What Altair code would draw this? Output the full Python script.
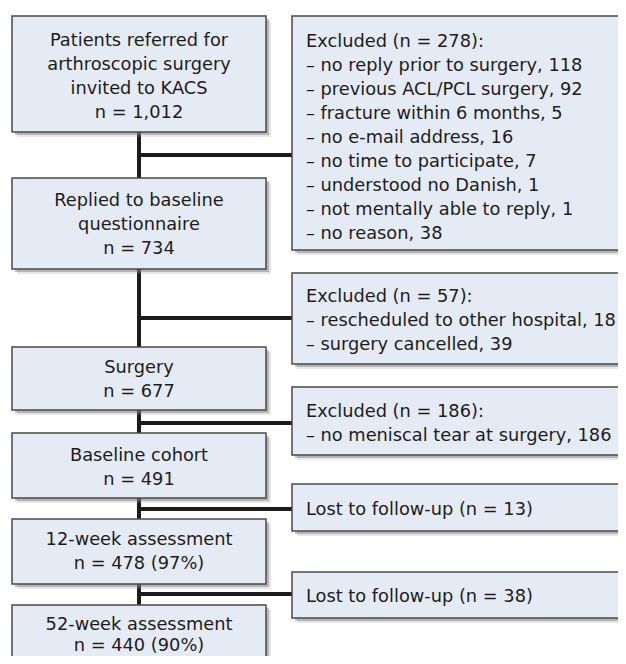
import altair as alt
import pandas as pd

# ---- content -------------------------------------------------------------
main_steps = [
    ["Patients referred for", "arthroscopic surgery", "invited to KACS", "n = 1,012"],
    ["Replied to baseline", "questionnaire", "n = 734"],
    ["Surgery", "n = 677"],
    ["Baseline cohort", "n = 491"],
    ["12-week assessment", "n = 478 (97%)"],
    ["52-week assessment", "n = 440 (90%)"],
]
side_steps = [
    ["Excluded (n = 278):",
     "– no reply prior to surgery, 118",
     "– previous ACL/PCL surgery, 92",
     "– fracture within 6 months, 5",
     "– no e-mail address, 16",
     "– no time to participate, 7",
     "– understood no Danish, 1",
     "– not mentally able to reply, 1",
     "– no reason, 38"],
    ["Excluded (n = 57):",
     "– rescheduled to other hospital, 18",
     "– surgery cancelled, 39"],
    ["Excluded (n = 186):",
     "– no meniscal tear at surgery, 186"],
    ["Lost to follow-up (n = 13)"],
    ["Lost to follow-up (n = 38)"],
]

# ---- layout (pixel frame of the page) -------------------------------------
MAIN_X = (12, 266)
MAIN_CX = 139
# (top, bottom, first baseline, line step)
main_geom = [(16, 132, 46, 24), (178, 269, 206, 24), (347, 410, 373, 24),
             (433, 498, 461, 24), (519, 584, 545, 24), (605, 700, 630, 20.5)]
SIDE_X = (292, 680)
SIDE_TX = 306
side_geom = [(16, 250, 47, 24), (273, 364, 302, 24), (387, 455, 417, 24),
             (484, 531, 515, 24), (572, 618, 602, 24)]
branch_y = [155, 318, 423, 509, 594]

FONT = "DejaVu Sans"
FS = 17.8
INK = "#1e1b1c"
FILL = "#e4ebf5"
EDGE = "#4a4a4a"

boxes = []
texts = []
for lines, (t, b, bl, step) in zip(main_steps, main_geom):
    boxes.append(dict(x=MAIN_X[0], x2=MAIN_X[1], y=t, y2=b))
    for i, s in enumerate(lines):
        texts.append(dict(x=MAIN_CX, y=bl + i * step, label=s, side="c"))
for lines, (t, b, bl, step) in zip(side_steps, side_geom):
    boxes.append(dict(x=SIDE_X[0], x2=SIDE_X[1], y=t, y2=b))
    for i, s in enumerate(lines):
        texts.append(dict(x=SIDE_TX, y=bl + i * step, label=s, side="l"))
boxes = pd.DataFrame(boxes)
texts = pd.DataFrame(texts)

shadow1 = boxes.copy()
shadow1[["x", "x2"]] += 3
shadow1[["y", "y2"]] += 3
shadow2 = boxes.copy()
shadow2[["x", "x2"]] += 5
shadow2[["y", "y2"]] += 5

rules = []
for g0, g1 in zip(main_geom[:-1], main_geom[1:]):
    rules.append(dict(x=MAIN_CX, x2=MAIN_CX, y=g0[1], y2=g1[0]))
for by in branch_y:
    rules.append(dict(x=MAIN_CX, x2=SIDE_X[0], y=by, y2=by))
rules = pd.DataFrame(rules)

# plot area covers page pixels 8..618 (x) and 8..656 (y)
xs = alt.Scale(domain=[8, 618], nice=False, zero=False)
ys = alt.Scale(domain=[8, 656], reverse=True, nice=False, zero=False)


def rect_layer(df, **kw):
    return alt.Chart(df).mark_rect(clip=True, **kw).encode(
        x=alt.X("x:Q", scale=xs, axis=None),
        x2="x2:Q",
        y=alt.Y("y:Q", scale=ys, axis=None),
        y2="y2:Q",
    )


lines_layer = alt.Chart(rules).mark_rule(color=INK, strokeWidth=4, clip=True).encode(
    x=alt.X("x:Q", scale=xs, axis=None),
    x2="x2:Q",
    y=alt.Y("y:Q", scale=ys, axis=None),
    y2="y2:Q",
)

sh2 = rect_layer(shadow2, color="#9a9a9a", opacity=0.25)
sh1 = rect_layer(shadow1, color="#7a7a7a", opacity=0.45)
box_layer = rect_layer(boxes, fill=FILL, stroke=EDGE, strokeWidth=1.5)

text_c = alt.Chart(texts[texts.side == "c"]).mark_text(
    align="center", baseline="alphabetic", font=FONT, fontSize=FS, color=INK
).encode(
    x=alt.X("x:Q", scale=xs, axis=None),
    y=alt.Y("y:Q", scale=ys, axis=None),
    text="label:N",
)
text_l = alt.Chart(texts[texts.side == "l"]).mark_text(
    align="left", baseline="alphabetic", font=FONT, fontSize=FS, color=INK
).encode(
    x=alt.X("x:Q", scale=xs, axis=None),
    y=alt.Y("y:Q", scale=ys, axis=None),
    text="label:N",
)

chart = alt.layer(lines_layer, sh2, sh1, box_layer, text_c, text_l).properties(
    width=610, height=648, padding=0, autosize=alt.AutoSizeParams(type="none")
).configure_view(stroke=None)

chart.save("out.html", embed_options={"renderer": "svg", "actions": False})
